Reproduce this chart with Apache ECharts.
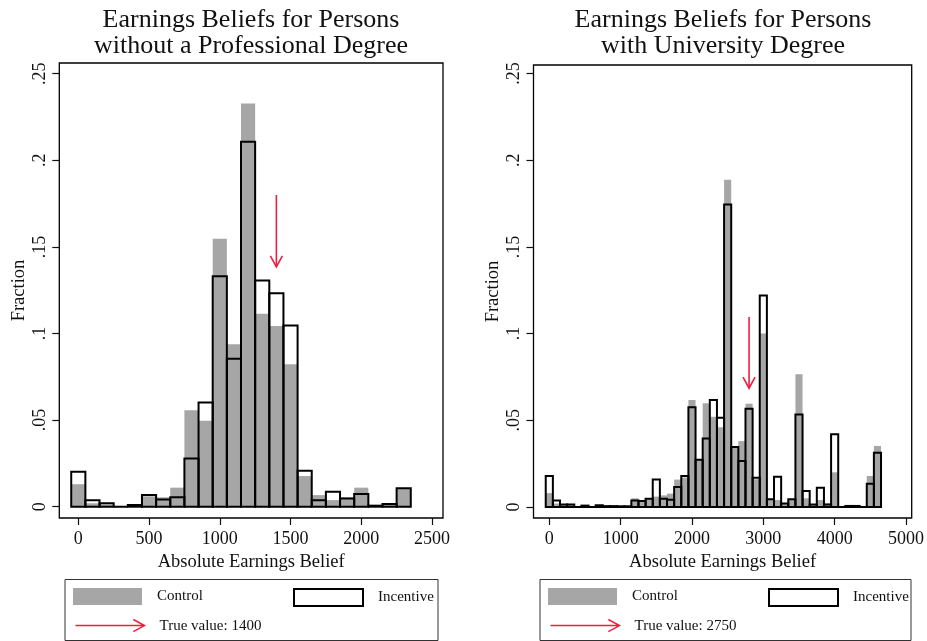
<!DOCTYPE html>
<html><head><meta charset="utf-8">
<script src="https://cdn.jsdelivr.net/npm/echarts@6/dist/echarts.min.js"></script>
<style>html,body{margin:0;padding:0;background:#fff}#c{width:927px;height:641px}</style>
</head><body><div id="c"></div>
<script>
// ---- data ----
const leftBins = [0,100,200,300,400,500,600,700,800,900,1000,1100,1200,1300,1400,1500,1600,1700,1800,1900,2000,2100,2200,2300];
const leftControl = [0.013,0.002,0.0013,0,0.0005,0.006,0.0054,0.011,0.0557,0.0496,0.1547,0.0938,0.2328,0.1114,0.1043,0.0822,0.0177,0.0067,0.0038,0.0054,0.011,0.0005,0.001,0.0106];
const leftIncentive = [0.0202,0.0038,0.002,0,0.001,0.0067,0.0042,0.0054,0.0279,0.0601,0.133,0.0855,0.2108,0.1306,0.1233,0.1047,0.0207,0.0038,0.0086,0.0048,0.0073,0.0006,0.0015,0.0106];

const rightBins = [0,100,200,300,400,500,600,700,800,900,1000,1100,1200,1300,1400,1500,1600,1700,1800,1900,2000,2100,2200,2300,2400,2500,2600,2700,2800,2900,3000,3100,3200,3300,3400,3500,3600,3700,3800,3900,4000,4100,4200,4300,4400,4500,4600];
const rightControl = [0.008,0.002,0.0015,0.0015,0,0.0008,0,0.001,0.0005,0.0005,0.0004,0.0004,0.005,0.004,0.005,0.006,0.0067,0.0077,0.0158,0.017,0.0617,0.027,0.0598,0.052,0.046,0.1887,0.035,0.038,0.0596,0.016,0.1,0.004,0.004,0.002,0.004,0.0765,0.005,0.0015,0.004,0.002,0.02,0,0.0006,0.0006,0,0.0179,0.0352];
const rightIncentive = [0.0179,0.0038,0.0015,0.0015,0,0.0008,0,0.001,0.0005,0.0005,0.0004,0.0004,0.0038,0.0035,0.0048,0.0158,0.0048,0.0042,0.0115,0.0179,0.0575,0.0272,0.0395,0.0617,0.0515,0.1744,0.0346,0.0265,0.0567,0.0169,0.122,0.0044,0.0175,0.002,0.0044,0.0534,0.0092,0.0015,0.0111,0.0015,0.0419,0,0.0006,0.0006,0,0.0134,0.0313];

// true-value arrows: [x, arrow top, arrow tip]
const leftArrow = [[1400, 0.18, 0.1385]];
const rightArrow = [[2800, 0.1096, 0.0685]];

const leftXTicks = [0,500,1000,1500,2000,2500];
const rightXTicks = [0,1000,2000,3000,4000,5000];
const yTicks = [0,0.05,0.1,0.15,0.2,0.25];
const yTickLabels = ['0','.05','.1','.15','.2','.25'];

const leftTitle = 'Earnings Beliefs for Persons\nwithout a Professional Degree';
const rightTitle = 'Earnings Beliefs for Persons\nwith University Degree';
const xName = 'Absolute Earnings Belief';
const yName = 'Fraction';
const legendNames = ['Control','Incentive','True value: 1400','True value: 2750'];

// ---- styling ----
const BIN = 100;
const FONT = '"Liberation Serif","Times New Roman",serif';
const GRAY = '#a6a6a6';
const RED = '#ee1f3f';
const INK = '#111';

function barRender(fill, stroke, lw){
  return function(params, api){
    const x = api.value(0), y = api.value(1);
    const a = api.coord([x - BIN/2, y]);
    const b = api.coord([x + BIN/2, 0]);
    return {type:'rect', shape:{x:a[0], y:a[1], width:b[0]-a[0], height:b[1]-a[1]},
      style:{fill:fill, stroke:stroke, lineWidth:lw}};
  };
}
function arrowRender(params, api){
  const x = api.value(0);
  const top = api.coord([x, api.value(1)]);
  const tip = api.coord([x, api.value(2)]);
  return {type:'group', children:[
    {type:'line', shape:{x1:top[0], y1:top[1], x2:tip[0], y2:tip[1]}, style:{stroke:RED, lineWidth:1.6}},
    {type:'polyline', shape:{points:[[tip[0]-6, tip[1]-11],[tip[0], tip[1]],[tip[0]+6, tip[1]-11]]},
      style:{stroke:RED, lineWidth:1.6, fill:'none'}}
  ]};
}

function xAxisCfg(gi, min, max, ticks){
  return {type:'value', gridIndex:gi, min:min, max:max,
    axisLine:{show:false, onZero:false}, splitLine:{show:false},
    axisTick:{show:true, customValues:ticks, length:7, lineStyle:{color:INK, width:1.2}},
    axisLabel:{customValues:ticks, color:INK, fontFamily:FONT, fontSize:18, margin:12,
      formatter:function(v){ return String(v); }},
    name:xName, nameLocation:'middle', nameGap:33,
    nameTextStyle:{color:INK, fontFamily:FONT, fontSize:18.5}};
}
function yAxisCfg(gi, min, max){
  return {type:'value', gridIndex:gi, min:min, max:max,
    axisLine:{show:false, onZero:false}, splitLine:{show:false},
    axisTick:{show:true, customValues:yTicks, length:7, lineStyle:{color:INK, width:1.2}},
    axisLabel:{customValues:yTicks, rotate:90, color:INK, fontFamily:FONT, fontSize:18, margin:10,
      formatter:function(v){ const i = yTicks.indexOf(v); return i >= 0 ? yTickLabels[i] : ''; }},
    name:yName, nameLocation:'middle', nameRotate:90, nameGap:31,
    nameTextStyle:{color:INK, fontFamily:FONT, fontSize:18.5}};
}

const legTxt = {color:INK, fontFamily:FONT, fontSize:15, padding:[6,0,0,10]};
function legendCfg(name, left, top, icon, style){
  return {data:[{name:name, icon:icon, itemStyle:style}], left:left, top:top, padding:0,
    itemWidth:69, itemHeight:17, selectedMode:false, textStyle:legTxt};
}
const arrowIcon = 'path://M0,6L68,6M57,0L68,6L57,12';

const chart = echarts.init(document.getElementById('c'), null, {renderer:'canvas'});
chart.setOption({
  backgroundColor:'#fff',
  animation:false,
  title:[
    {text:leftTitle, left:251, top:7, textAlign:'center', padding:0,
      textStyle:{fontFamily:FONT, fontSize:26, fontWeight:'normal', color:INK, lineHeight:26}},
    {text:rightTitle, left:723, top:7, textAlign:'center', padding:0,
      textStyle:{fontFamily:FONT, fontSize:26, fontWeight:'normal', color:INK, lineHeight:26}}
  ],
  grid:[
    {left:59.3, top:63, width:383.7, height:455, show:true, borderColor:'#000', borderWidth:1.3, backgroundColor:'#fff'},
    {left:533.5, top:65, width:378.2, height:453, show:true, borderColor:'#000', borderWidth:1.3, backgroundColor:'#fff'}
  ],
  xAxis:[xAxisCfg(0, -134.3, 2577.8, leftXTicks), xAxisCfg(1, -221.5, 5080, rightXTicks)],
  yAxis:[yAxisCfg(0, -0.00652, 0.2562), yAxisCfg(1, -0.00635, 0.2549)],
  legend:[
    legendCfg(legendNames[0], 73, 588, 'rect', {color:GRAY, borderWidth:0}),
    legendCfg(legendNames[1], 293, 588, 'rect', {color:'#fff', borderColor:'#000', borderWidth:2}),
    legendCfg(legendNames[2], 73, 617, arrowIcon, {color:'none', borderColor:RED, borderWidth:1.5}),
    legendCfg(legendNames[0], 548, 588, 'rect', {color:GRAY, borderWidth:0}),
    legendCfg(legendNames[1], 768, 588, 'rect', {color:'#fff', borderColor:'#000', borderWidth:2}),
    legendCfg(legendNames[3], 548, 617, arrowIcon, {color:'none', borderColor:RED, borderWidth:1.5})
  ],
  graphic:[
    {type:'rect', shape:{x:65, y:579.5, width:373, height:61}, style:{fill:'none', stroke:'#333', lineWidth:1}, silent:true},
    {type:'rect', shape:{x:540, y:579.5, width:371, height:61}, style:{fill:'none', stroke:'#333', lineWidth:1}, silent:true}
  ],
  series:[
    {type:'custom', name:legendNames[0], xAxisIndex:0, yAxisIndex:0, renderItem:barRender(GRAY, null, 0),
      itemStyle:{color:GRAY}, encode:{x:0, y:1}, data:leftBins.map((b,i)=>[b, leftControl[i]]), z:1},
    {type:'custom', name:legendNames[1], xAxisIndex:0, yAxisIndex:0, renderItem:barRender('none', '#000', 2),
      itemStyle:{color:'#fff', borderColor:'#000', borderWidth:2}, encode:{x:0, y:1}, data:leftBins.map((b,i)=>[b, leftIncentive[i]]), z:2},
    {type:'custom', name:legendNames[2], xAxisIndex:0, yAxisIndex:0, renderItem:arrowRender,
      itemStyle:{color:'none', borderColor:RED}, encode:{x:0, y:[1,2]}, data:leftArrow, z:3},
    {type:'custom', name:legendNames[0], xAxisIndex:1, yAxisIndex:1, renderItem:barRender(GRAY, null, 0),
      itemStyle:{color:GRAY}, encode:{x:0, y:1}, data:rightBins.map((b,i)=>[b, rightControl[i]]), z:1},
    {type:'custom', name:legendNames[1], xAxisIndex:1, yAxisIndex:1, renderItem:barRender('none', '#000', 2),
      itemStyle:{color:'#fff', borderColor:'#000', borderWidth:2}, encode:{x:0, y:1}, data:rightBins.map((b,i)=>[b, rightIncentive[i]]), z:2},
    {type:'custom', name:legendNames[3], xAxisIndex:1, yAxisIndex:1, renderItem:arrowRender,
      itemStyle:{color:'none', borderColor:RED}, encode:{x:0, y:[1,2]}, data:rightArrow, z:3}
  ]
});
</script></body></html>
